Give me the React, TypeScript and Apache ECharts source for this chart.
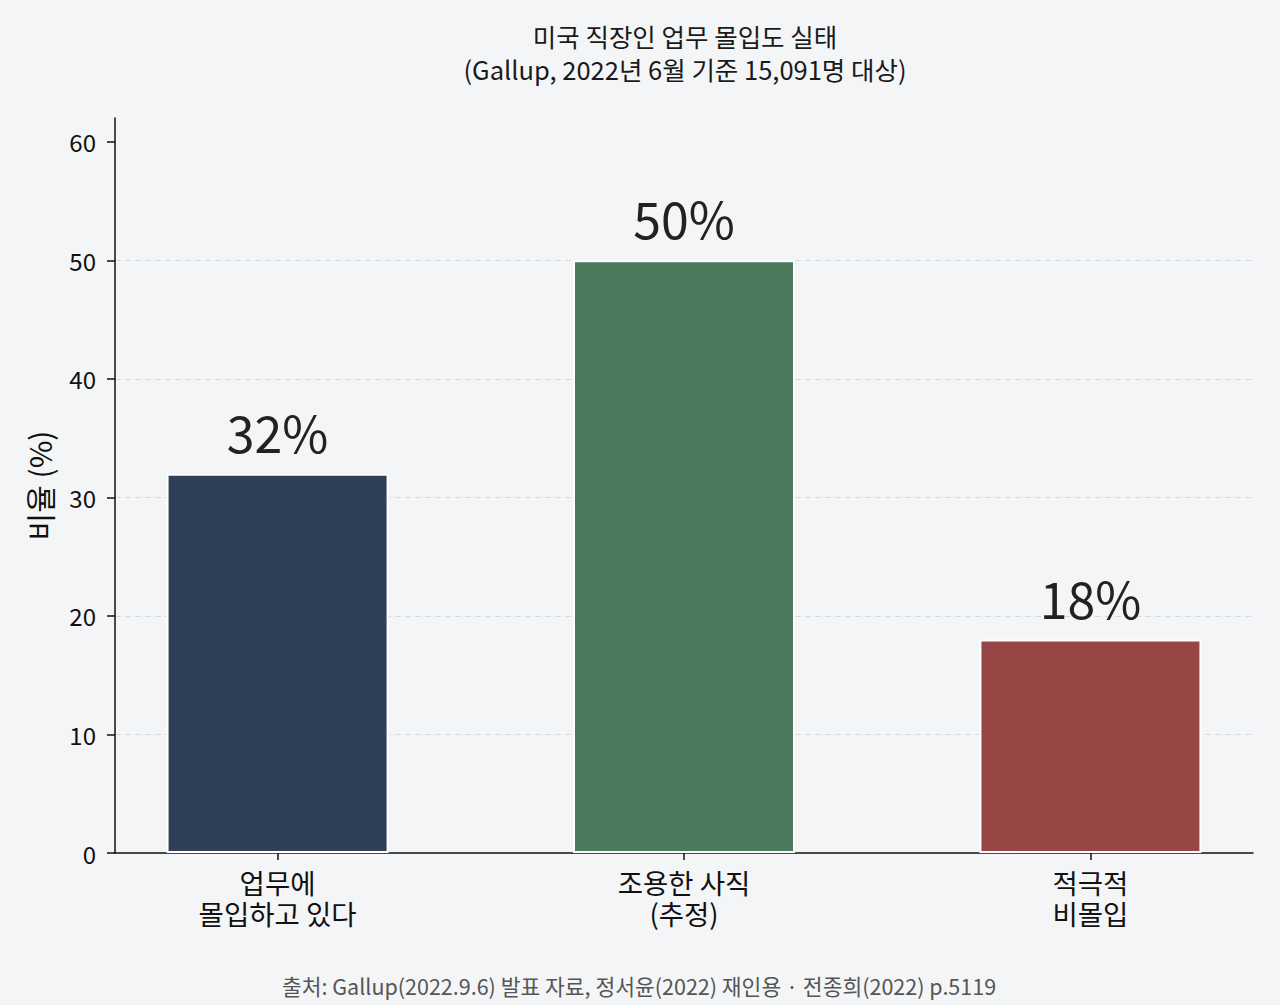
import React, { useEffect, useRef } from "react";
import * as echarts from "echarts";

const categories = ["업무에\n몰입하고 있다", "조용한 사직\n(추정)", "적극적\n비몰입"];
const values = [32, 50, 18];
const barColors = ["#2E3F57", "#4B7A5D", "#984645"];
const yTicks = [0, 10, 20, 30, 40, 50, 60];
const xPositions = [0, 1, 2];

const titleText = "미국 직장인 업무 몰입도 실태\n(Gallup, 2022년 6월 기준 15,091명 대상)";
const sourceText = "출처: Gallup(2022.9.6) 발표 자료, 정서윤(2022) 재인용 · 전종희(2022) p.5119";

const FONT = '"Noto Sans CJK KR", "Noto Sans", sans-serif';

export default function App() {
  const ref = useRef<HTMLDivElement>(null);
  useEffect(() => {
    document.body.style.margin = "0";
    const chart = echarts.init(ref.current!, null, { renderer: "svg" });
    chart.setOption({
      animation: false,
      backgroundColor: "#F4F5F7",
      textStyle: { fontFamily: FONT },
      title: [
        {
          text: titleText,
          left: 680,
          top: 14,
          textAlign: "center",
          textStyle: { fontFamily: FONT, fontSize: 25.5, fontWeight: "normal", color: "#1a1a1a", lineHeight: 33 },
        },
        {
          text: sourceText,
          left: 634,
          top: 970,
          textAlign: "center",
          textStyle: { fontFamily: FONT, fontSize: 21.5, fontWeight: "normal", color: "#555555" },
        },
      ],
      grid: { left: 115, right: 27, top: 118, bottom: 152, containLabel: false },
      xAxis: {
        type: "value",
        min: -0.4,
        max: 2.4,
        axisLine: { show: true, onZero: false, lineStyle: { color: "#111", width: 1.5 } },
        axisTick: { show: true, length: 7, customValues: xPositions, lineStyle: { color: "#111", width: 1.5 } },
        axisLabel: {
          customValues: xPositions,
          formatter: (v: number) => categories[Math.round(v)],
          fontFamily: FONT,
          fontSize: 27.5,
          lineHeight: 31,
          color: "#111",
          margin: 13,
        },
        splitLine: { show: false },
      },
      yAxis: {
        type: "value",
        min: 0,
        max: 62,
        interval: 10,
        name: "비율 (%)",
        nameLocation: "middle",
        nameGap: 61,
        nameRotate: 90,
        nameTextStyle: { fontFamily: FONT, fontSize: 30, color: "#111" },
        axisLine: { show: true, onZero: false, lineStyle: { color: "#111", width: 1.5 } },
        axisTick: { show: true, length: 8, customValues: yTicks, lineStyle: { color: "#111", width: 1.5 } },
        axisLabel: {
          customValues: yTicks,
          fontFamily: FONT,
          fontSize: 24,
          color: "#111",
          margin: 19,
        },
        splitLine: {
          show: true,
          showMinLine: false,
          showMaxLine: false,
          lineStyle: { color: "#D6D9DE", type: [6, 4], width: 1.2 },
        },
      },
      series: [
        {
          type: "bar",
          barWidth: 222,
          data: values.map((v, i) => ({
            value: [xPositions[i], v],
            itemStyle: { color: barColors[i], borderColor: "#FFFFFF", borderWidth: 2 },
          })),
          label: {
            show: true,
            position: "top",
            distance: 18,
            formatter: (p: any) => p.value[1] + "%",
            fontFamily: FONT,
            fontSize: 50,
            color: "#222",
          },
        },
      ],
    });
    return () => chart.dispose();
  }, []);
  return <div ref={ref} style={{ position: "fixed", left: 0, top: 0, width: 1280, height: 1005 }} />;
}
